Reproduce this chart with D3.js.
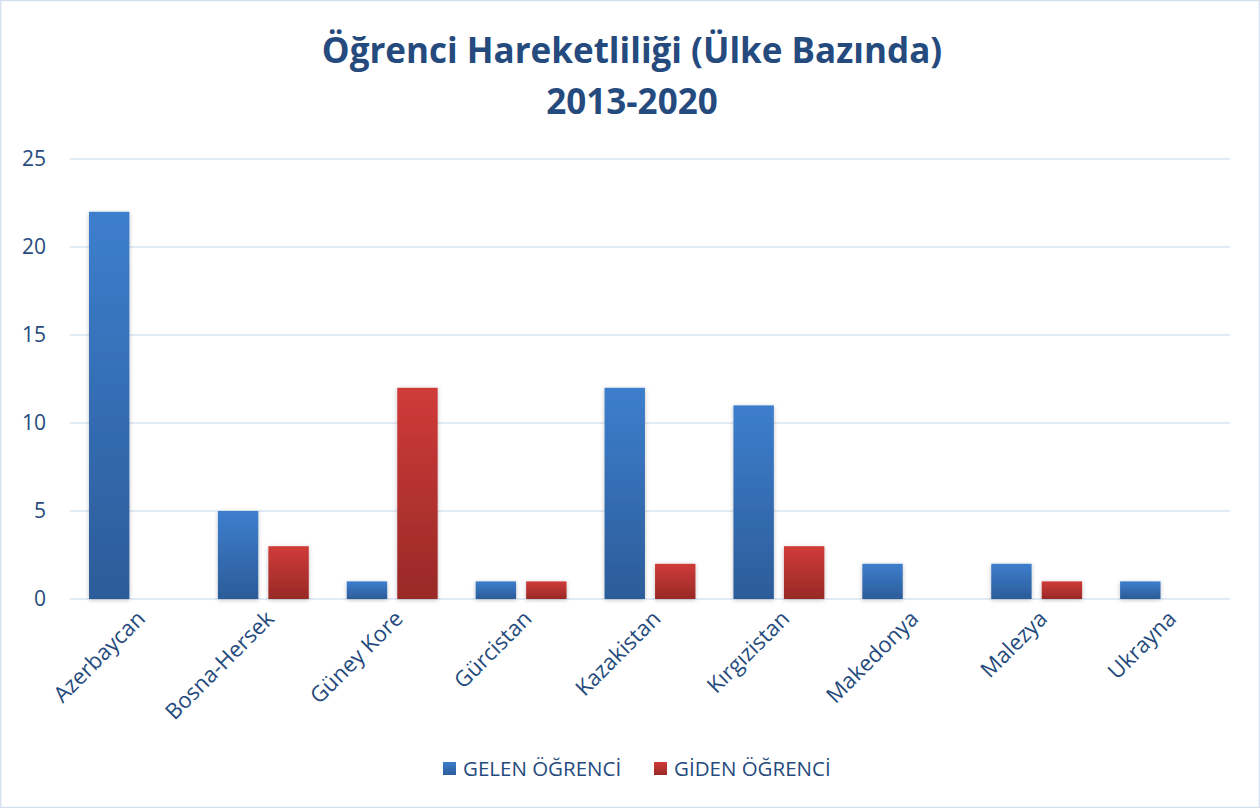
<!DOCTYPE html>
<html>
<head>
<meta charset="utf-8">
<script src="https://cdn.jsdelivr.net/npm/d3@7"></script>
<style>
  body { margin: 0; background: #fff; }
  svg { font-family: "Open Sans", "Noto Sans", sans-serif; }
</style>
</head>
<body>
<div id="graph"></div>
<script>
var countries = ["Azerbaycan", "Bosna-Hersek", "Güney Kore", "Gürcistan", "Kazakistan",
                 "Kırgızistan", "Makedonya", "Malezya", "Ukrayna"];
var gelen = [22, 5, 1, 1, 12, 11, 2, 2, 1];
var giden = [0, 3, 12, 1, 2, 3, 0, 1, 0];
var seriesNames = ["GELEN ÖĞRENCİ", "GİDEN ÖĞRENCİ"];
var yTicks = [0, 5, 10, 15, 20, 25];

var width = 1260;
var height = 808;
var textColor = "#254a7d";

var svg = d3.select("#graph").append("svg")
    .attr("width", width)
    .attr("height", height);

var defs = svg.append("defs");
function grad(id, c1, c2) {
    var g = defs.append("linearGradient").attr("id", id)
        .attr("x1", 0).attr("y1", 0).attr("x2", 0).attr("y2", 1);
    g.append("stop").attr("offset", "0%").attr("stop-color", c1);
    g.append("stop").attr("offset", "100%").attr("stop-color", c2);
}
grad("gBlue", "#3d7ecd", "#2c5c99");
grad("gRed", "#d03b39", "#982927");
var f = defs.append("filter").attr("id", "shadow")
    .attr("x", "-20%").attr("y", "-20%").attr("width", "140%").attr("height", "140%");
f.append("feDropShadow").attr("dx", 0).attr("dy", 1).attr("stdDeviation", 2)
    .attr("flood-color", "#000").attr("flood-opacity", 0.25);

// chart border
svg.append("rect")
    .attr("x", 0.5).attr("y", 0.5)
    .attr("width", width - 1).attr("height", height - 1)
    .attr("fill", "none").attr("stroke", "#d5e1ef").attr("stroke-width", 1.5);

// title
svg.append("text").attr("x", 632).attr("y", 63)
    .attr("text-anchor", "middle").attr("fill", textColor)
    .attr("font-size", 35).attr("font-weight", "bold")
    .text("Öğrenci Hareketliliği (Ülke Bazında)");
svg.append("text").attr("x", 632).attr("y", 114)
    .attr("text-anchor", "middle").attr("fill", textColor)
    .attr("font-size", 35).attr("font-weight", "bold")
    .text("2013-2020");

var plotLeft = 70, plotRight = 1230, plotTop = 159, plotBottom = 599;

var x = d3.scaleBand().domain(countries).range([plotLeft, plotRight]);
var x1 = d3.scaleBand().domain([0, 1]).range([19, x.bandwidth() - 19]).paddingInner(0.2);
var y = d3.scaleLinear().domain([0, 25]).range([plotBottom, plotTop]);

// gridlines
svg.append("g").selectAll("line").data(yTicks).enter().append("line")
    .attr("x1", plotLeft).attr("x2", plotRight)
    .attr("y1", function(d) { return y(d); })
    .attr("y2", function(d) { return y(d); })
    .attr("stroke", "#d9e4f2").attr("stroke-width", 1.5);

// y labels
svg.append("g").selectAll("text").data(yTicks).enter().append("text")
    .attr("x", 46).attr("y", function(d) { return y(d) + 7; })
    .attr("text-anchor", "end").attr("fill", textColor)
    .attr("font-size", 21)
    .text(function(d) { return d; });

// bars
var data = countries.map(function(c, i) { return { c: c, vals: [gelen[i], giden[i]] }; });
var groups = svg.append("g").selectAll("g").data(data).enter().append("g")
    .attr("transform", function(d) { return "translate(" + x(d.c) + ",0)"; });
groups.selectAll("rect")
    .data(function(d) {
        return d.vals.map(function(v, k) { return { k: k, v: v }; })
            .filter(function(e) { return e.v > 0; });
    })
    .enter().append("rect")
    .attr("x", function(d) { return x1(d.k); })
    .attr("width", x1.bandwidth())
    .attr("y", function(d) { return y(d.v); })
    .attr("height", function(d) { return y(0) - y(d.v); })
    .attr("fill", function(d) { return d.k === 0 ? "url(#gBlue)" : "url(#gRed)"; })
    .attr("filter", "url(#shadow)");

// x labels
svg.append("g").selectAll("text").data(countries).enter().append("text")
    .attr("transform", function(d) {
        return "translate(" + (x(d) + x.bandwidth() / 2 + 12) + "," + 620 + ") rotate(-45)";
    })
    .attr("text-anchor", "end").attr("fill", textColor)
    .attr("font-size", 22)
    .text(function(d) { return d; });

// legend
var legend = svg.append("g");
var legendX = [443, 654];
seriesNames.forEach(function(name, i) {
    legend.append("rect")
        .attr("x", legendX[i]).attr("y", 762)
        .attr("width", 13).attr("height", 13)
        .attr("fill", i === 0 ? "url(#gBlue)" : "url(#gRed)");
    legend.append("text")
        .attr("x", legendX[i] + 20).attr("y", 776)
        .attr("fill", textColor).attr("font-size", 20.5)
        .text(name);
});
</script>
</body>
</html>
